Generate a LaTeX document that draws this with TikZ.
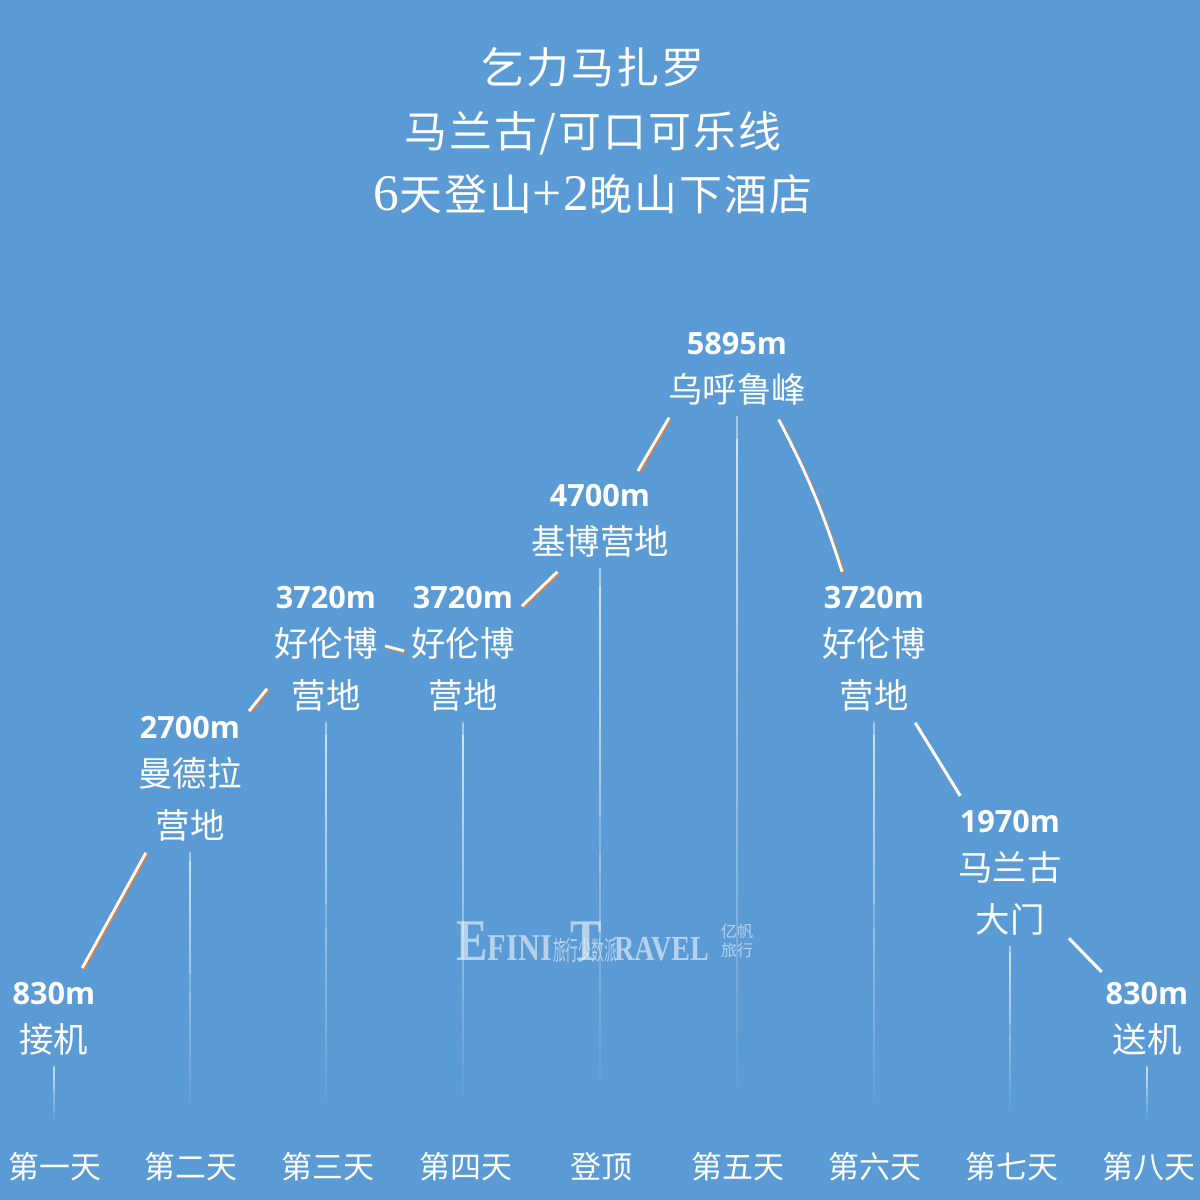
\documentclass[tikz,border=0pt]{standalone}
\usepackage{fontspec}
\usepackage{xcolor}
\usepackage{tikz}
\usetikzlibrary{
  calc
}
\setmainfont{Noto Sans CJK SC}
\newfontfamily\altfont{Open Sans}
\newfontfamily\serifpart{Liberation Serif}
\newfontfamily\titlefont[LetterSpace=5]{Noto Sans CJK SC}
\newfontfamily\titlelatin[LetterSpace=5,Scale=1.2]{Liberation Serif}
\definecolor{skyblue}{HTML}{5B9BD5}
\definecolor{ridgeorange}{HTML}{ED7D31}
\newcommand{\alt}[1]{{\altfont\bfseries\fontsize{21.8}{21.8}\selectfont #1}}

\begin{document}
\begin{tikzpicture}[x=.025cm, y=-.025cm,
	stop/.style = {anchor=north, align=center, text=white, inner sep=5pt, font=\fontsize{24.5}{37}\selectfont},
	day/.style = {text=white, inner sep=0pt, font=\fontsize{22}{26}\selectfont},
	stem/.style = {line width=.8pt, line cap=rect},
	slope/.style = {draw=white, line width=2.2pt},
	ridge/.style = {draw=white, line width=2pt, preaction={draw=ridgeorange, line width=2pt, transform canvas={shift={(.8pt,-.8pt)}}}},
	logo/.style = {text=white, opacity=.55, inner sep=0pt}]
				\fill[skyblue] (0,0) rectangle (1200,1200);
				\useasboundingbox (0,0) rectangle (1200,1200);

				% nodes
				\node[align=center, text=white, inner sep=0pt, font=\titlefont\fontsize{30.5}{45}\selectfont] (title) at (593,131) {乞力马扎罗\\马兰古/可口可乐线\\{\titlelatin 6}天登山{\titlelatin +2}晚山下酒店};

				\node[stop] (arrival) at (54,975) {\alt{830m}\\[-2.8pt]接机};
				\node[stop] (mandara) at (190,709) {\alt{2700m}\\[-2.8pt]曼德拉\\营地};
				\node[stop] (horombo1) at (326,579) {\alt{3720m}\\[-2.8pt]好伦博\\营地};
				\node[stop] (horombo2) at (463,579) {\alt{3720m}\\[-2.8pt]好伦博\\营地};
				\node[stop] (kibo) at (600,477) {\alt{4700m}\\[-2.8pt]基博营地};
				\node[stop] (uhuru) at (737,325) {\alt{5895m}\\[-2.8pt]乌呼鲁峰};
				\node[stop] (horombo3) at (874,579) {\alt{3720m}\\[-2.8pt]好伦博\\营地};
				\node[stop] (marangu) at (1010,803) {\alt{1970m}\\[-2.8pt]马兰古\\大门};
				\node[stop] (departure) at (1147,975) {\alt{830m}\\[-2.8pt]送机};

				\node[day] (day1) at (55,1167) {第一天};
				\node[day] (day2) at (191,1167) {第二天};
				\node[day] (day3) at (328,1167) {第三天};
				\node[day] (day4) at (466,1167) {第四天};
				\node[day] (summit) at (601,1167) {登顶};
				\node[day] (day5) at (738,1167) {第五天};
				\node[day] (day6) at (875,1167) {第六天};
				\node[day] (day7) at (1012,1167) {第七天};
				\node[day] (day8) at (1149,1167) {第八天};

				\coordinate (base1) at (54,1120);
				\coordinate (base2) at (190,1112);
				\coordinate (base3) at (326,1110);
				\coordinate (base4) at (463,1105);
				\coordinate (base5) at (600,1100);
				\coordinate (base6) at (737,1105);
				\coordinate (base7) at (874,1110);
				\coordinate (base8) at (1010,1112);
				\coordinate (base9) at (1147,1120);

				% connections
				\foreach \from/\to in {arrival/base1, mandara/base2, horombo1/base3, horombo2/base4, kibo/base5, uhuru/base6, horombo3/base7, marangu/base8, departure/base9} {
					\coordinate (stemtop) at ($(\from.south)+(0,4)$);
					\foreach \k in {0,...,29} {
						\pgfmathsetmacro{\mix}{72*(1-\k/30)}
						\draw[stem, draw=white!\mix!skyblue] ($(stemtop)!\k/30!(\to)$) -- ($(stemtop)!{(\k+1)/30}!(\to)$);
					}
				}
				\draw[ridge, shorten <=5.7pt, shorten >=3.3pt] (arrival.61) -- (mandara.239);
				\draw[ridge] (mandara.49) -- (horombo1.214);
				\draw[ridge] (horombo1.3) -- (horombo2.182);
				\draw[ridge, shorten >=7pt] (horombo2.36) -- (kibo.231);
				\draw[ridge, shorten <=5pt, shorten >=4pt] (kibo.52) -- (uhuru.214);
				\draw[ridge, shorten <=5.4pt, shorten >=5.4pt] (uhuru.311) to[bend left=5] (horombo3.113);
				\draw[slope, shorten <=3.4pt, shorten >=5.9pt] (horombo3.299) -- (marangu.123);
				\draw[slope, shorten >=3pt] (marangu.312) -- (departure.134);

				% logo
				\node[logo, anchor=base west, font=\serifpart\bfseries] (logotext) at (456,960) {\scalebox{.8}[1]{\fontsize{42}{42}\selectfont E\fontsize{27}{27}\selectfont FINI\kern1pt{\rmfamily\mdseries\scalebox{.6}[1]{\fontsize{19}{19}\selectfont 旅行少数派}}\kern-41.8pt\fontsize{42}{42}\selectfont T\kern11pt\fontsize{25}{25}\selectfont RAVEL}};
				\node[logo, align=center, font=\fontsize{11.5}{13}\selectfont] (logomark) at (737,941) {亿帆\\旅行};
			\end{tikzpicture}
\end{document}
